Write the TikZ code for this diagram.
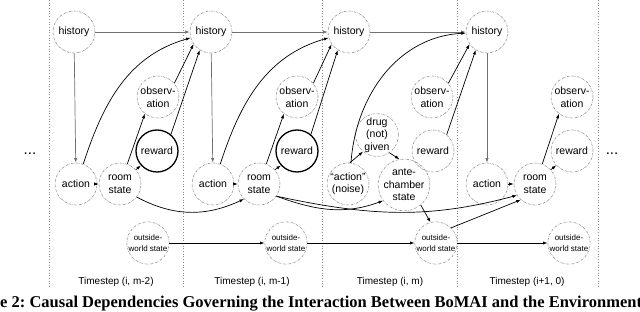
\documentclass[tikz,border=0pt]{standalone}
\usepackage{fontspec}
\setmainfont{Liberation Sans}
\newfontfamily\capfont{Liberation Serif}
\usepackage{tikz}
\usetikzlibrary{arrows.meta}
\definecolor{rim}{HTML}{8C8C8C}
\definecolor{memline}{HTML}{707070}
\tikzset{
  every node/.style={text=black},
  causenode/.style={circle, draw=rim, line width=0.55pt,
    dash pattern=on 2.4pt off 1.1pt on 0.5pt off 1.1pt,
    minimum size=42pt, inner sep=0pt, align=center,
    font=\fontsize{10.5}{12.5}\selectfont},
  paynode/.style={causenode, draw=black, solid, line width=1.3pt},
  worldnode/.style={causenode, minimum size=41pt, font=\fontsize{8}{11.5}\selectfont},
  cause/.style={-{Latex[length=4.5pt,width=3.2pt]}, line width=0.7pt, draw=black},
  memo/.style={cause, draw=memline},
  divider/.style={dotted, line width=0.7pt, draw=rim},
  steplabel/.style={font=\fontsize{10}{12}\selectfont}
}

\begin{document}
\begin{tikzpicture}[x=1pt,y=1pt]
\useasboundingbox (0,0) rectangle (640,-312);

% =========================
% TIMESTEP COLUMNS
% =========================
\foreach \xd in {49,183,322,457,598}
  \draw[divider] (\xd,0) -- (\xd,-287);

\foreach \nm/\xc/\ts in {tsA/116/{(i, m-2)}, tsB/252/{(i, m-1)},
                         tsC/390/{(i, m)}, tsD/527/{(i+1, 0)}}
  \node[steplabel] (\nm) at (\xc,-282) {Timestep \ts};

\node[font=\fontsize{15}{15}\selectfont] (dotsL) at (30,-154) {...};
\node[font=\fontsize{15}{15}\selectfont] (dotsR) at (612,-154) {...};

% =========================
% VARIABLES
% =========================
\foreach \nm/\xc/\yc/\txt in {
  hist1/74/32/history, hist2/211/32/history, hist3/349/32/history, hist4/487/32/history,
  act1/76/184/action, act2/213/184/action, act4/487/184/action,
  room1/120/184/room\\state, room2/259/184/room\\state, room4/535/184/room\\state,
  obs1/158/97/observ-\\ation, obs2/297/97/observ-\\ation,
  obs3/432/97/observ-\\ation, obs4/572/97/observ-\\ation,
  rew3/433/151/reward, rew4/572/151/reward,
  noise/348/184/“action”\\(noise), drug/377/135/drug\\(not)\\given,
  ante/404/185/ante-\\chamber\\state
}
  \node[causenode] (\nm) at (\xc,-\yc) {\txt};

% rewards that pay out (bold)
\node[paynode] (rew1) at (157,-151) {reward};
\node[paynode] (rew2) at (297,-151) {reward};

% outside world
\foreach \nm/\xc in {out1/148, out2/286, out3/436, out4/569}
  \node[worldnode] (\nm) at (\xc,-243) {outside-\\world state};

% =========================
% DEPENDENCIES
% =========================
% history chain
\foreach \a/\b in {hist1/hist2, hist2/hist3, hist3/hist4,
                   hist1/act1, hist2/act2, hist4/act4}
  \draw[memo] (\a) -- (\b);

% action -> room, room -> percepts
\foreach \c in {1,2,4}{
  \draw[cause] (act\c) -- (room\c);
  \draw[cause] (room\c.70) -- (obs\c.232);
  \draw[cause] (room\c.42) -- (rew\c.222);
}

% percepts -> next history
\foreach \c/\n in {1/2,2/3,3/4}{
  \draw[cause] (obs\c.40) -- (hist\n.215);
  \draw[cause] (rew\c.50) -- (hist\n.238);
}

% action -> next history
\draw[cause] (act1.70) to[out=72, in=196] (hist2.196);
\draw[cause] (act2.70) to[out=72, in=196] (hist3.196);
\draw[cause] (noise.82) to[out=86, in=183] (hist4.183);

% room state carried forward
\draw[cause] (room1.-38) to[out=-28, in=205] (room2.225);
\draw[cause] (room2.-35) to[out=-20, in=200] (ante.217);
\draw[cause] (room2.-35) to[out=-12, in=195] (room4.212);

% antechamber branch
\draw[cause] (noise.85) -- (drug.230);
\draw[cause] (drug.305) -- (ante.100);
\draw[cause] (ante.-50) -- (out3.105);
\draw[cause] (out3.45) -- (room4.228);

% outside world chain
\foreach \a/\b in {out1/out2, out2/out3, out3/out4}
  \draw[cause] (\a) -- (\b);

% caption (cut by the page)
\node[anchor=base west, font=\capfont\bfseries\fontsize{16.5}{18}\selectfont]
  (caption) at (26,-308)
  {\llap{Figure 2:\ }Causal Dependencies Governing the Interaction Between BoMAI and the Environment.};

\end{tikzpicture}
\end{document}
